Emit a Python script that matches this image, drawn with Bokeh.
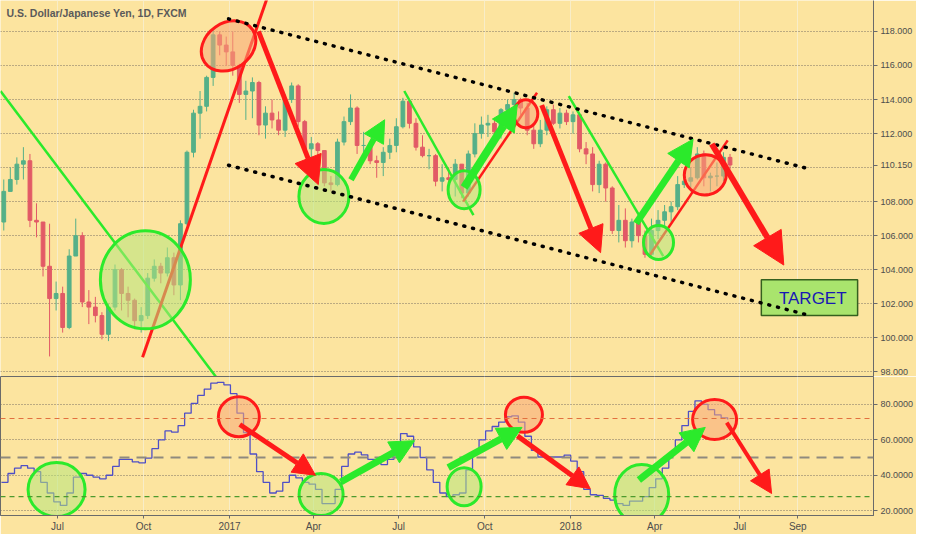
import pandas as pd
from bokeh.plotting import figure
from bokeh.layouts import gridplot
from bokeh.models import (Range1d, FixedTicker, NumeralTickFormatter, Span, Arrow,
                          NormalHead, Label, ColumnDataSource)
from bokeh.core.properties import value
from bokeh.embed import file_html
from bokeh.resources import INLINE

BG = "#FCE49F"
UP = "#55B088"
DOWN = "#E25A66"
RED = "#FF1A1A"
GREEN = "#2BEA2B"
FONT = "Liberation Sans"

# ---- USD/JPY, one bar per week ----
week_start = pd.date_range("2016-05-02", periods=112, freq="7D")
first_open = 106.8
closes = [108.6, 109.3, 110.2, 110.4, 106.9, 106.8, 104.2, 102.3, 102.6, 100.6,
          104.8, 106.0, 102.1, 101.8, 101.3, 100.2, 101.8, 104.0, 102.6, 102.2,
          101.0, 101.3, 103.5, 104.2, 103.8, 104.7, 103.1, 106.7, 110.9, 113.2,
          113.6, 115.3, 117.8, 117.2, 116.8, 116.0, 114.3, 114.5, 115.0, 112.5,
          113.2, 112.8, 112.2, 114.0, 114.8, 112.7, 111.1, 111.4, 111.0, 109.1,
          109.0, 111.5, 112.7, 113.5, 111.3, 111.3, 110.4, 110.3, 110.9, 111.3,
          112.4, 113.9, 112.6, 111.2, 110.7, 110.7, 109.2, 109.4, 109.3, 110.2,
          108.5, 110.8, 112.0, 112.5, 112.6, 112.1, 113.4, 113.7, 114.0, 113.5,
          112.2, 111.4, 112.2, 113.4, 112.6, 113.2, 112.7, 113.1, 111.1, 110.8,
          109.0, 110.2, 108.8, 106.3, 106.9, 105.7, 106.8, 106.0, 104.9, 106.3,
          106.9, 107.4, 107.7, 109.0, 109.2, 109.4, 110.8, 109.4, 109.5, 109.5,
          110.6, 110.15]
highs = [109.3, 110.0, 110.6, 111.2, 110.8, 107.9, 106.8, 106.7, 103.3, 103.0,
         105.2, 107.0, 106.2, 102.8, 102.4, 101.5, 102.0, 104.3, 104.1, 103.0,
         102.3, 101.8, 103.8, 104.6, 104.4, 105.3, 105.0, 106.9, 111.0, 113.4,
         114.5, 115.4, 118.2, 118.0, 117.7, 118.0, 116.1, 115.1, 115.3, 115.1,
         113.6, 114.0, 113.3, 114.3, 115.0, 114.9, 112.8, 111.8, 111.5, 111.0,
         109.5, 111.7, 113.0, 114.3, 113.6, 112.1, 111.5, 110.7, 111.2, 111.7,
         112.9, 114.1, 114.0, 112.9, 111.9, 111.1, 110.8, 110.2, 110.0, 110.5,
         110.2, 111.0, 112.6, 113.0, 113.1, 112.9, 113.5, 114.0, 114.4, 114.1,
         113.8, 112.5, 112.8, 113.6, 113.7, 113.5, 113.4, 113.3, 113.2, 111.5,
         111.2, 110.4, 110.3, 108.9, 107.8, 107.6, 107.0, 107.2, 106.3, 107.0,
         107.5, 107.8, 108.0, 109.5, 109.9, 110.0, 111.2, 111.0, 109.7, 110.3,
         110.9, 110.8]
lows = [106.3, 108.6, 109.0, 109.3, 106.5, 105.9, 103.6, 98.9, 101.6, 100.3,
        100.5, 104.9, 101.8, 100.8, 100.9, 99.9, 99.8, 101.6, 101.6, 101.2,
        100.5, 100.3, 101.1, 103.3, 103.2, 103.6, 102.5, 102.2, 106.6, 110.6,
        111.7, 113.3, 114.8, 116.6, 116.0, 115.4, 113.8, 112.8, 112.9, 111.9,
        111.7, 112.3, 111.9, 111.8, 113.8, 112.4, 110.9, 110.2, 110.1, 108.9,
        108.6, 108.9, 111.3, 112.5, 110.8, 110.9, 110.2, 109.4, 109.5, 110.5,
        110.9, 112.3, 112.3, 111.0, 110.6, 109.9, 108.9, 108.6, 108.8, 108.3,
        108.2, 108.3, 110.6, 111.7, 111.8, 111.6, 111.7, 113.0, 113.2, 113.1,
        111.9, 111.1, 111.2, 111.9, 112.5, 112.3, 112.5, 112.0, 110.9, 110.2,
        108.6, 108.5, 108.0, 106.1, 105.6, 105.3, 105.3, 105.6, 104.7, 104.8,
        105.8, 106.6, 106.8, 107.5, 108.8, 108.6, 109.3, 108.9, 108.6, 108.9,
        109.2, 109.9]
last_price = 110.15

# ---- oscillator (lower pane), one step per week ----
osc = [36, 41, 44, 45.4, 44, 42, 36, 30, 25, 23,
       30, 39, 41, 40, 39, 38, 40, 45, 49, 49,
       47.5, 47, 49.7, 55, 60, 65, 64.3, 68, 75, 80.5,
       85, 88.6, 92, 92.4, 91, 86, 75, 64, 52, 42,
       36, 30, 31, 36, 40, 38.5, 36, 35, 32, 24,
       24, 32, 45, 52, 53, 51.5, 49, 47, 46, 49,
       58, 63.5, 62, 56, 50, 43, 36, 30, 28, 29,
       30, 43, 53, 60, 65, 67.5, 70, 73, 73.5, 70,
       62, 54, 50.3, 50.3, 50.3, 50.3, 51.4, 48, 42, 32,
       29, 28.6, 27, 26, 24, 23, 25.4, 25.4, 28, 33,
       38, 44, 52, 60, 68, 76, 82, 80, 77, 74,
       72.4, 71.4]
osc_levels = [72, 50, 28]
osc_level_colors = ["#E2703F", "#8F8A7E", "#4E9A2E"]

price_ticks = [98, 100, 102, 104, 106, 108, 110, 112, 114, 116, 118]
osc_ticks = [20, 40, 60, 80]
month_ticks = ["2016-07-01", "2016-10-01", "2017-01-01", "2017-04-01", "2017-07-01",
               "2017-10-01", "2018-01-01", "2018-04-01", "2018-07-01", "2018-09-01"]
month_labels = ["Jul", "Oct", "2017", "Apr", "Jul", "Oct", "2018", "Apr", "Jul", "Sep"]

# ---- hand drawn analysis, in (date, value) ----
green_lines = [("2016-05-01", 114.5, "2016-12-23", 97.3),
               ("2017-07-07", 114.5, "2017-09-19", 107.2),
               ("2017-12-30", 114.2, "2018-04-10", 104.8)]
red_lines = [("2016-09-30", 98.85, "2017-02-13", 120.4),
             ("2017-09-08", 108.0, "2017-11-26", 114.4),
             ("2018-03-26", 104.8, "2018-06-18", 111.6)]
channel_dates = ["2016-12-31", "2018-09-10"]
channel_top = [118.74, 109.97]
channel_bottom = [110.14, 101.36]

up_green_circles = [("2016-10-03", 103.4, 90, 98), ("2017-04-12", 108.3, 50, 54),
                    ("2017-09-09", 108.7, 32, 38), ("2018-04-05", 105.6, 30, 34)]
up_red_circles = [("2016-12-31", 117.15, 58, 46, 0.6), ("2017-11-14", 113.16, 24, 28, 0.0),
                  ("2018-05-25", 109.57, 42, 40, 0.2)]
up_red_arrows = [("2017-02-01", 118.0, "2017-04-06", 109.0, 28, 5),
                 ("2017-12-01", 113.67, "2018-02-02", 105.0, 26, 5),
                 ("2018-06-01", 111.39, "2018-08-17", 104.27, 32, 6)]
up_green_arrows = [("2017-05-11", 109.28, "2017-06-16", 112.81, 22, 6),
                   ("2017-09-09", 108.83, "2017-11-05", 113.73, 26, 8),
                   ("2018-03-12", 106.72, "2018-05-12", 111.67, 26, 7)]
target_box = ("2018-07-24", "2018-11-04", 103.41, 101.30)
target_text = ("2018-09-17", 102.33, "TARGET")

lo_green_circles = [("2016-06-30", 31.9, 57, 54), ("2017-04-09", 29.2, 44, 42),
                    ("2017-09-09", 33.5, 34, 38), ("2018-03-18", 29.2, 54, 60)]
lo_red_circles = [("2017-01-11", 73.0, 41, 40, 0.0), ("2017-11-12", 74.1, 37, 35, 0.0),
                  ("2018-06-04", 71.4, 44, 40, 0.0)]
lo_red_arrows = [("2017-01-12", 68.6, "2017-04-03", 40.0, 22, 5),
                 ("2017-11-05", 62.2, "2018-01-22", 32.4, 22, 5),
                 ("2018-06-17", 69.7, "2018-08-04", 29.7, 22, 4)]
lo_green_arrows = [("2017-04-30", 36.2, "2017-07-18", 59.5, 24, 7),
                   ("2017-08-23", 44.3, "2017-11-10", 67.0, 24, 7),
                   ("2018-03-15", 37.3, "2018-05-25", 67.0, 24, 7)]


def ms(d):
    return pd.Timestamp(d).timestamp() * 1000


x_range = Range1d(pd.Timestamp("2016-05-01"), pd.Timestamp("2018-11-21"))
month_ms = [ms(d) for d in month_ticks]


def style(p, ticks, grid_ticks, fmt):
    p.background_fill_color = BG
    p.border_fill_color = BG
    p.min_border_left = 0
    p.min_border_top = 0
    p.min_border_bottom = 0
    p.min_border_right = 0
    ax = p.yaxis[0]
    ax.ticker = FixedTicker(ticks=ticks)
    ax.formatter = NumeralTickFormatter(format=fmt)
    ax.major_label_text_font = FONT
    ax.major_label_text_font_size = "9px"
    ax.major_label_text_color = "#4d4d4d"
    ax.major_tick_out = 4
    ax.major_tick_in = 0
    ax.minor_tick_out = 0
    ax.minor_tick_in = 0
    ax.major_label_standoff = 3
    ax.axis_line_color = "#6a6a6a"
    ax.major_tick_line_color = "#6a6a6a"
    p.ygrid.ticker = FixedTicker(ticks=grid_ticks)
    p.ygrid.grid_line_color = "#7a7162"
    p.ygrid.grid_line_dash = "1 2"
    p.xgrid.ticker = FixedTicker(ticks=month_ms)
    p.xgrid.grid_line_color = "#F8EDC8"
    p.xgrid.grid_line_width = 1


def draw_circles(p, circles, line, fill, angle=False):
    src = ColumnDataSource(dict(
        x=[pd.Timestamp(c[0]) for c in circles], y=[c[1] for c in circles],
        w=[c[2] for c in circles], h=[c[3] for c in circles],
        a=[c[4] if angle else 0 for c in circles]))
    p.ellipse("x", "y", width="w", height="h", angle="a", source=src,
              width_units="screen", height_units="screen",
              fill_color=fill, fill_alpha=0.55, line_color=line, line_width=3)


def draw_arrows(p, arrows, color):
    for a in arrows:
        p.add_layout(Arrow(end=NormalHead(size=a[4], fill_color=color, line_color=color),
                           x_start=ms(a[0]), y_start=a[1], x_end=ms(a[2]), y_end=a[3],
                           line_color=color, line_width=a[5]))


# ---------------- price pane ----------------
p1 = figure(width=916, height=376, x_axis_type="datetime", x_range=x_range,
            y_range=Range1d(97.72, 119.82), y_axis_location="right",
            output_backend="svg", toolbar_location=None)
# the last price takes the place of the 110 label on the scale
axis_ticks = [t for t in price_ticks if t != 110] + [last_price]
style(p1, axis_ticks, price_ticks, "0.000")
p1.xaxis.visible = False
p1.outline_line_color = None

opens = [first_open] + closes[:-1]
candle = pd.DataFrame(dict(x=week_start + pd.Timedelta(hours=60), open=opens,
                           close=closes, high=highs, low=lows))
candle["top"] = candle[["open", "close"]].max(axis=1)
candle["bottom"] = candle[["open", "close"]].min(axis=1)
candle["color"] = [UP if c >= o else DOWN for o, c in zip(opens, closes)]
csrc = ColumnDataSource(candle)
p1.segment("x", "high", "x", "low", color="color", line_width=1, source=csrc)
p1.vbar("x", width=4 * 24 * 3600 * 1000, top="top", bottom="bottom",
        fill_color="color", line_color="color", source=csrc)

# green / red trend lines
for x0, y0, x1, y1 in green_lines:
    p1.line([pd.Timestamp(x0), pd.Timestamp(x1)], [y0, y1], line_color=GREEN, line_width=2.5)
for i, (x0, y0, x1, y1) in enumerate(red_lines):
    p1.line([pd.Timestamp(x0), pd.Timestamp(x1)], [y0, y1], line_color=RED,
            line_width=3 if i == 0 else 2.5)

draw_circles(p1, up_green_circles, GREEN, "#B6E67C")
draw_circles(p1, up_red_circles, RED, "#F7A777", angle=True)

# target box
p1.quad(left=[pd.Timestamp(target_box[0])], right=[pd.Timestamp(target_box[1])],
        top=[target_box[2]], bottom=[target_box[3]],
        fill_color="#A9E46D", line_color="#35601E", line_width=1.5)
p1.text(x=[pd.Timestamp(target_text[0])], y=[target_text[1]], text=[target_text[2]],
        text_font=value(FONT), text_font_size="17px", text_color="#1818B4",
        text_align="center", text_baseline="middle")

# channel (dotted)
for ys in (channel_top, channel_bottom):
    p1.line([pd.Timestamp(d) for d in channel_dates], ys, line_color="black",
            line_width=3.5, line_dash="1 8", line_cap="round")

draw_arrows(p1, up_red_arrows, RED)
draw_arrows(p1, up_green_arrows, GREEN)

p1.add_layout(Label(x=6, x_units="screen", y=119.08, text="U.S. Dollar/Japanese Yen, 1D, FXCM",
                    text_font=FONT, text_font_size="10.5px", text_font_style="bold",
                    text_color="#5a5a5a", text_baseline="middle"))

# ---------------- oscillator pane ----------------
p2 = figure(width=916, height=158, x_axis_type="datetime", x_range=x_range,
            y_range=Range1d(17.3, 95.7), y_axis_location="right",
            output_backend="svg", toolbar_location=None)
style(p2, osc_ticks, osc_ticks, "0.0000")
p2.outline_line_color = "#6a6a6a"

xa = p2.xaxis[0]
xa.ticker = FixedTicker(ticks=month_ms)
xa.major_label_overrides = {m: t for m, t in zip(month_ms, month_labels)}
xa.major_label_text_font = FONT
xa.major_label_text_font_size = "10px"
xa.major_label_text_color = "#4d4d4d"
xa.major_tick_out = 3
xa.major_tick_in = 0
xa.minor_tick_out = 0
xa.minor_tick_in = 0
xa.major_label_standoff = 2
xa.axis_line_color = "#6a6a6a"
xa.major_tick_line_color = "#6a6a6a"

for lvl, col in zip(osc_levels, osc_level_colors):
    p2.add_layout(Span(location=lvl, dimension="width", line_color=col,
                       line_dash="10 7" if lvl == 50 else "5 4",
                       line_width=2 if lvl == 50 else 1.2))

p2.step(week_start, osc, mode="after", line_color="#4F4FC6", line_width=1.3)

draw_circles(p2, lo_green_circles, GREEN, "#B6E67C")
draw_circles(p2, lo_red_circles, RED, "#F7A777", angle=True)
draw_arrows(p2, lo_red_arrows, RED)
draw_arrows(p2, lo_green_arrows, GREEN)

grid = gridplot([[p1], [p2]], toolbar_location=None)
open("out.html", "w").write(file_html(grid, INLINE))
